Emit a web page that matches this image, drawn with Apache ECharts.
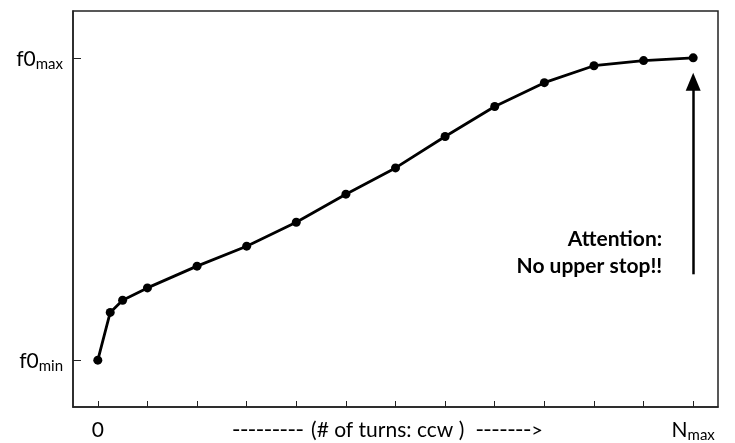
<!DOCTYPE html>
<html><head><meta charset="utf-8">
<script src="https://cdn.jsdelivr.net/npm/echarts@6/dist/echarts.min.js"></script>
<style>html,body{margin:0;padding:0;background:#fff}#c{width:735px;height:443px}</style>
</head><body><div id="c"></div>
<script>
// turns (x) and normalized frequency (y: 0 = f0min, 1 = f0max)
const turns = [0, 0.25, 0.5, 1, 2, 3, 4, 5, 6, 7, 8, 9, 10, 11, 12];
const freq  = [0, 0.158, 0.198, 0.239, 0.311, 0.377, 0.456, 0.549, 0.636, 0.740, 0.839, 0.918, 0.974, 0.991, 1.0];
const xTicks = [0, 1, 2, 3, 4, 5, 6, 7, 8, 9, 10, 11, 12];
const xLabelValues = [0, 6, 12];
const yTicks = [0, 1];
const arrowFrom = [12, 0.284];
const arrowTo = [12, 0.921];
const noteAt = [11.375, 0.355];
const noteText = 'Attention:\nNo upper stop!!';

const chart = echarts.init(document.getElementById('c'), null, {renderer: 'canvas'});
const FONT = 'Lato';
const DASH = 'DejaVu Sans';
chart.setOption({
  animation: false,
  grid: {left: 73, right: 17, top: 11, bottom: 35, show: true, borderColor: '#222', borderWidth: 1.5, backgroundColor: 'transparent'},
  xAxis: {
    type: 'value', min: -0.5, max: 12.5,
    splitLine: {show: false},
    axisLine: {show: true, onZero: false, lineStyle: {color: '#222', width: 1.5}},
    axisTick: {show: true, inside: true, length: 6, customValues: xTicks, lineStyle: {color: '#222', width: 1}},
    axisLabel: {
      customValues: xLabelValues, margin: 12, color: '#000', fontFamily: FONT,
      formatter: function (v) {
        if (v === 0) return '{n|0}';
        if (v === 6) return '{d|---------}{m| (# of turns: ccw ) }{d|-------}{e|>}';
        if (v === 12) return '{n|N}{s|max}';
        return '';
      },
      rich: {
        n: {fontSize: 21, fontFamily: FONT, color: '#000', lineHeight: 22, verticalAlign: 'bottom'},
        m: {fontSize: 21, fontFamily: FONT, color: '#000', lineHeight: 22, verticalAlign: 'bottom', padding: [0, 6, 0, 2]},
        d: {fontSize: 22, fontFamily: DASH, color: '#000', lineHeight: 22, verticalAlign: 'bottom'},
        e: {fontSize: 20, fontFamily: FONT, color: '#000', lineHeight: 22, verticalAlign: 'bottom', padding: [0, 16, 0, 0]},
        s: {fontSize: 15, fontFamily: FONT, color: '#000', lineHeight: 22, verticalAlign: 'bottom', padding: [0, 0, -2, 0]}
      }
    }
  },
  yAxis: {
    type: 'value', min: -0.155, max: 1.155,
    splitLine: {show: false},
    axisLine: {show: true, onZero: false, lineStyle: {color: '#222', width: 1.5}},
    axisTick: {show: true, inside: true, length: 8, customValues: yTicks, lineStyle: {color: '#222', width: 1}},
    axisLabel: {
      customValues: yTicks, margin: 10, color: '#000', fontFamily: FONT,
      formatter: function (v) { return v === 0 ? '{n|f0}{s|min}' : '{n|f0}{s|max}'; },
      rich: {
        n: {fontSize: 21, fontFamily: FONT, color: '#000', lineHeight: 24, verticalAlign: 'bottom'},
        s: {fontSize: 15, fontFamily: FONT, color: '#000', lineHeight: 24, verticalAlign: 'bottom', padding: [0, 0, -2, 0]}
      }
    }
  },
  series: [{
    type: 'line',
    data: turns.map((t, i) => [t, freq[i]]),
    symbol: 'circle', symbolSize: 9,
    itemStyle: {color: '#000'},
    lineStyle: {color: '#000', width: 2.8},
    markLine: {
      silent: true, symbol: ['none', 'triangle'], symbolSize: [15, 18],
      lineStyle: {color: '#000', width: 2.5, type: 'solid'},
      label: {show: false},
      data: [[{coord: arrowFrom}, {coord: arrowTo}]]
    },
    markPoint: {
      silent: true, symbol: 'circle', symbolSize: 1,
      itemStyle: {color: 'transparent'},
      label: {
        show: true, position: 'inside', align: 'right', verticalAlign: 'middle',
        formatter: noteText, color: '#000', fontFamily: FONT, fontWeight: 'bold', fontSize: 21, lineHeight: 27
      },
      data: [{coord: noteAt}]
    }
  }]
});
</script></body></html>
